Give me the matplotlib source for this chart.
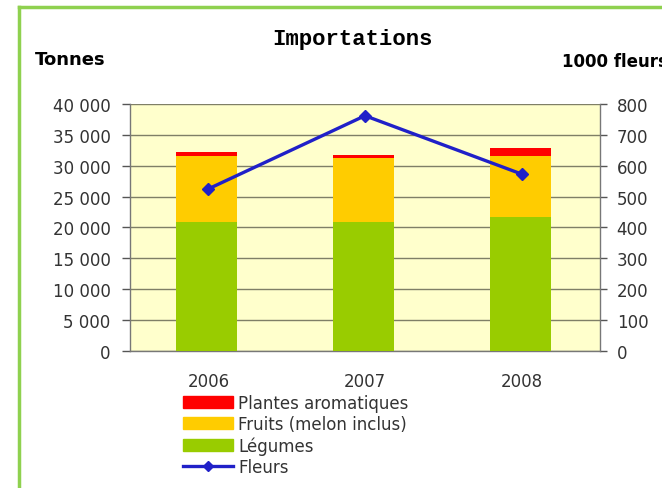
import numpy as np
import matplotlib
matplotlib.use("Agg")
import matplotlib.pyplot as plt
from matplotlib.lines import Line2D
from matplotlib.patches import Patch
from matplotlib.ticker import FuncFormatter

# ── Data ──────────────────────────────────────────────────────────────────────
years    = ["2006", "2007", "2008"]
legumes  = [20900, 20900, 21700]
fruits   = [10700, 10400, 9900]
plantes  = [600, 500, 1300]
fleurs   = [525, 762, 573]

# ── Colours ───────────────────────────────────────────────────────────────────
GREEN  = "#99CC00"
YELLOW = "#FFCC00"
RED    = "#FF0000"
BLUE   = "#2020C8"
BG     = "#FFFFCC"
GRID   = "#7F7F66"
BORDER = "#8FD14F"
TXT    = "#333333"

plt.rcParams["font.family"] = ["DejaVu Sans"]

fig = plt.figure(figsize=(6.62, 4.89), dpi=100)
ax = fig.add_axes([0.1964, 0.2802, 0.7099, 0.5051])
ax2 = ax.twinx()

x = np.arange(len(years))
w = 0.39
ax.bar(x - 0.01, legumes, w, color=GREEN, zorder=3)
ax.bar(x - 0.01, fruits, w, bottom=legumes, color=YELLOW, zorder=3)
bot2 = np.array(legumes) + np.array(fruits)
ax.bar(x - 0.01, plantes, w, bottom=bot2, color=RED, zorder=3)

ax2.plot(x, fleurs, color=BLUE, lw=2.4, marker="D", ms=6, zorder=4)

ax.set_facecolor(BG)
ax.set_xlim(-0.5, 2.5)
ax.set_ylim(0, 40000)
ax.set_yticks(np.arange(0, 40001, 5000))
ax.yaxis.set_major_formatter(FuncFormatter(lambda v, p: f"{int(v):,}".replace(",", " ")))
ax.grid(axis="y", color=GRID, lw=1.0, zorder=1)
ax.set_xticks(x)
ax.set_xticklabels(years)
ax2.set_ylim(0, 800)
ax2.set_yticks(np.arange(0, 801, 100))

for a in (ax, ax2):
    for s in a.spines.values():
        s.set_visible(False)
    a.tick_params(labelsize=12, labelcolor=TXT, color="#555555", length=6, width=1.0)
ax.spines["left"].set_visible(True)
ax.spines["bottom"].set_visible(True)
ax2.spines["right"].set_visible(True)
for s in (ax.spines["left"], ax.spines["bottom"], ax2.spines["right"]):
    s.set_color("#777777")
    s.set_linewidth(1.0)
ax.tick_params(axis="x", length=0, pad=15)
ax.tick_params(axis="y", pad=8)
ax2.tick_params(axis="y", length=5, pad=7)
ax.set_zorder(1)
ax2.set_zorder(2)
ax2.patch.set_visible(False)

# ── Titles ────────────────────────────────────────────────────────────────────
fig.text(0.5325, 0.920, "Importations", family="Liberation Mono",
         weight="bold", fontsize=16, ha="center", va="center")
fig.text(0.053, 0.877, "Tonnes", weight="bold",
         fontsize=13, ha="left", va="center")
fig.text(0.849, 0.873, "1000 fleurs", weight="bold",
         fontsize=12, ha="left", va="center")

# ── Legend ────────────────────────────────────────────────────────────────────
handles = [
    Patch(color=RED, label="Plantes aromatiques"),
    Patch(color=YELLOW, label="Fruits (melon inclus)"),
    Patch(color=GREEN, label="Légumes"),
    Line2D([], [], color=BLUE, lw=2.4, marker="D", ms=5, label="Fleurs"),
]
leg = fig.legend(handles=handles, loc="upper left", bbox_to_anchor=(0.2764, 0.193),
                 frameon=False, fontsize=12, handlelength=3.0, handleheight=0.75,
                 handletextpad=0.3, labelspacing=0.2, borderaxespad=0, borderpad=0)
for t in leg.get_texts():
    t.set_color(TXT)

# ── Green border (left and top) ───────────────────────────────────────────────
fig.add_artist(Line2D([0.028, 0.028], [0.0, 0.983], color=BORDER, lw=2.5,
                      transform=fig.transFigure))
fig.add_artist(Line2D([0.028, 1.0], [0.983, 0.983], color=BORDER, lw=2.5,
                      transform=fig.transFigure))

fig.savefig("out.png", dpi=100)
